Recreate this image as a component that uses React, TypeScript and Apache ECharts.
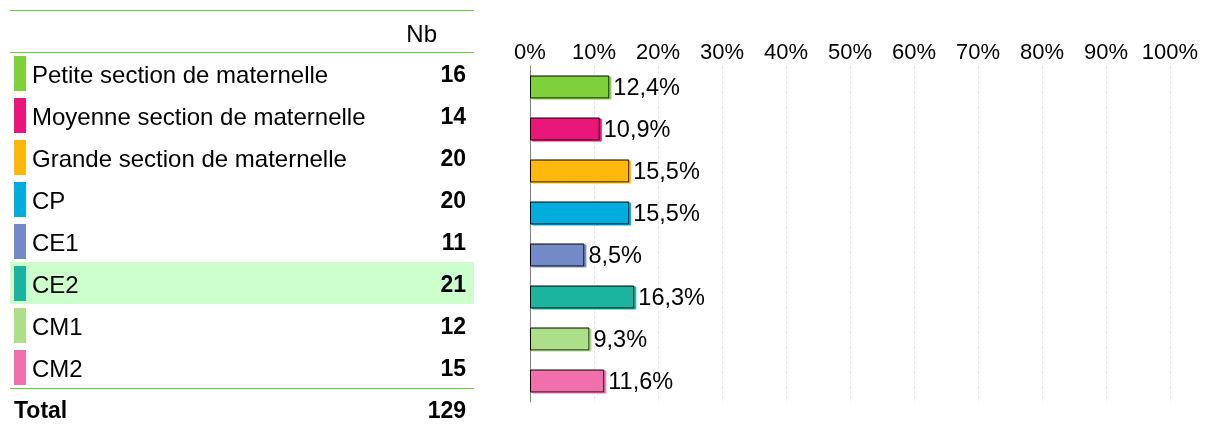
import React, { useEffect, useRef } from "react";
import * as echarts from "echarts";

const categories = [
  "Petite section de maternelle",
  "Moyenne section de maternelle",
  "Grande section de maternelle",
  "CP",
  "CE1",
  "CE2",
  "CM1",
  "CM2",
];
const counts = [16, 14, 20, 20, 11, 21, 12, 15];
const percents = [12.4, 10.9, 15.5, 15.5, 8.5, 16.3, 9.3, 11.6];
const colors = ["#7fd13b", "#ea157a", "#feb80a", "#00addc", "#738ac8", "#1ab39f", "#acdf87", "#f16fac"];
const totalCount = 129;
const tickValues = [0, 10, 20, 30, 40, 50, 60, 70, 80, 90, 100];

const FONT = "'Liberation Sans', Arial, sans-serif";

export default function App() {
  const ref = useRef<HTMLDivElement>(null);
  useEffect(() => {
    if (!ref.current) return;
    const chart = echarts.init(ref.current, undefined, { renderer: "svg" });
    const rowY0 = 74;
    const rowStep = 42;
    const graphics: any[] = [];
    graphics.push({ type: "line", shape: { x1: 10, y1: 10.5, x2: 474, y2: 10.5 }, style: { stroke: "#5ad43a", lineWidth: 1 } });
    graphics.push({ type: "line", shape: { x1: 10, y1: 52.5, x2: 474, y2: 52.5 }, style: { stroke: "#5ad43a", lineWidth: 1 } });
    graphics.push({ type: "text", x: 437, y: 33, style: { text: "Nb", font: `24px ${FONT}`, fill: "#000", align: "right", verticalAlign: "middle" } });
    graphics.push({ type: "rect", shape: { x: 10, y: 262, width: 464, height: 42 }, style: { fill: "#ccffcc" } });
    categories.forEach((c, i) => {
      const cy = rowY0 + i * rowStep;
      graphics.push({ type: "rect", shape: { x: 14, y: cy - 18, width: 12, height: 35 }, style: { fill: colors[i] } });
      graphics.push({ type: "text", x: 32, y: cy, style: { text: c, font: `24px ${FONT}`, fill: "#000", align: "left", verticalAlign: "middle" } });
      graphics.push({ type: "text", x: 466, y: cy, style: { text: String(counts[i]), font: `bold 23px ${FONT}`, fill: "#000", align: "right", verticalAlign: "middle" } });
    });
    graphics.push({ type: "line", shape: { x1: 10, y1: 388.5, x2: 474, y2: 388.5 }, style: { stroke: "#5ad43a", lineWidth: 1 } });
    graphics.push({ type: "text", x: 14, y: 410, style: { text: "Total", font: `bold 23px ${FONT}`, fill: "#000", align: "left", verticalAlign: "middle" } });
    graphics.push({ type: "text", x: 466, y: 410, style: { text: String(totalCount), font: `bold 23px ${FONT}`, fill: "#000", align: "right", verticalAlign: "middle" } });

    chart.setOption({
      animation: false,
      graphic: graphics,
      grid: { left: 530, right: 40, top: 66, bottom: 23, containLabel: false },
      xAxis: {
        type: "value",
        position: "top",
        min: tickValues[0],
        max: tickValues[tickValues.length - 1],
        interval: 10,
        axisLine: { show: false },
        axisTick: { show: false },
        axisLabel: { formatter: "{value}%", fontSize: 22, color: "#000", fontFamily: FONT, margin: 4 },
        splitLine: { show: true, lineStyle: { color: "#e8e8e8", type: [3, 2], width: 1 } },
      },
      yAxis: {
        type: "category",
        data: categories,
        inverse: true,
        axisLine: { show: true, lineStyle: { color: "#808080", width: 1 } },
        axisTick: { show: false },
        axisLabel: { show: false },
        splitLine: { show: false },
      },
      series: [
        {
          type: "bar",
          barWidth: 23,
          data: percents.map((p, i) => ({
            value: p,
            itemStyle: {
              color: colors[i],
              borderColor: "#000",
              borderWidth: 1,
              shadowColor: colors[i],
              shadowOffsetX: 2,
              shadowOffsetY: 1,
              shadowBlur: 0,
            },
          })),
          label: {
            show: true,
            position: "right",
            distance: 4,
            fontSize: 23.5,
            fontFamily: FONT,
            color: "#000",
            formatter: (p: any) => p.value.toFixed(1).replace(".", ",") + "%",
          },
        },
      ],
    });
    return () => chart.dispose();
  }, []);
  return <div ref={ref} style={{ position: "fixed", left: 0, top: 0, width: 1210, height: 425 }} />;
}
